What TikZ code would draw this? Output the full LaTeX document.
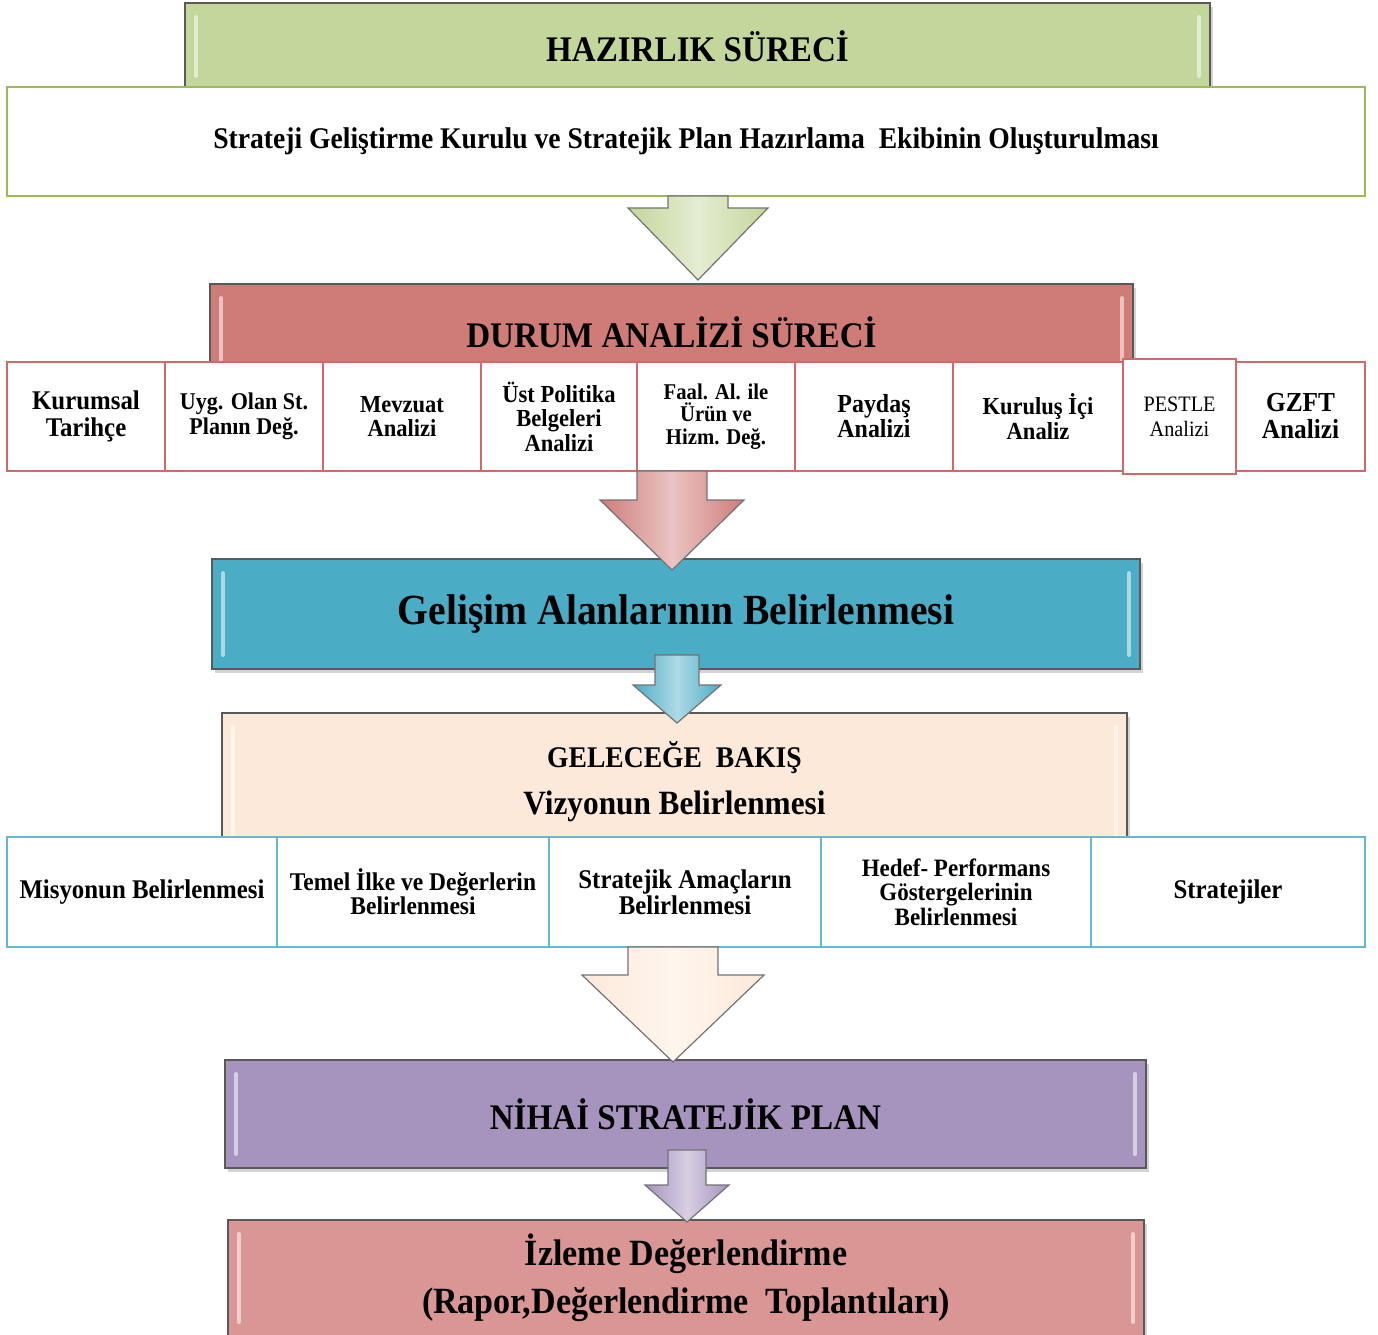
\documentclass[tikz,border=0pt]{standalone}
\usepackage{fontspec}
\setmainfont{Liberation Serif}[FakeStretch=0.92]
\usepackage{xcolor}
\usetikzlibrary{calc,shadows}

\definecolor{hzgreen}{HTML}{C3D69B}
\definecolor{hzgreenline}{HTML}{9BBB59}
\definecolor{darred}{HTML}{CF7C79}
\definecolor{darredline}{HTML}{D06A6A}
\definecolor{gaBlue}{HTML}{4BACC6}
\definecolor{gbPeach}{HTML}{FDE9D9}
\definecolor{nspPurple}{HTML}{A694BF}
\definecolor{izRose}{HTML}{D99694}

% block arrow: start, tip, half shaft, half head, head length, fill
\newcommand{\flowarrow}[6]{%
  \draw[blockarrow, left color=#6, right color=#6, middle color=white!55!#6]
    ($(#1)+(-#3,0)$) -- ($(#2)+(-#3,#5)$) -- ($(#2)+(-#4,#5)$) -- (#2)
    -- ($(#2)+(#4,#5)$) -- ($(#2)+(#3,#5)$) -- ($(#1)+(#3,0)$) -- cycle;}

\begin{document}
\begin{tikzpicture}[
  x=1pt, y=1pt,
  stage/.style={draw=black!65, line width=1.6pt, drop shadow={opacity=0.35, shadow xshift=3pt, shadow yshift=-4pt},
    font=\fontsize{36}{40}\selectfont\bfseries, align=center, inner sep=0pt,
    path picture={
      \draw[white, opacity=0.55, line width=4pt, line cap=round]
        ([xshift=11pt, yshift=-14pt]path picture bounding box.north west) -- ([xshift=11pt, yshift=14pt]path picture bounding box.south west)
        ([xshift=-11pt, yshift=-14pt]path picture bounding box.north east) -- ([xshift=-11pt, yshift=14pt]path picture bounding box.south east);}},
  redcell/.style={draw=darredline, line width=1.6pt, fill=white, minimum height=109, align=center, inner sep=0pt,
    font=\fontsize{24.5}{24.5}\selectfont\bfseries},
  bluecell/.style={draw=gaBlue!85, line width=1.6pt, fill=white, minimum height=110, align=center, inner sep=0pt,
    font=\fontsize{27}{26}\selectfont\bfseries},
  blockarrow/.style={draw=black!55, line width=1.2pt, line join=miter}
]
  \useasboundingbox (0,0) rectangle (1378,-1335);

  % Hazirlik
  \node[stage, fill=hzgreen, minimum width=1025, minimum height=87] (hazir) at (697.5,-46.5) {HAZIRLIK SÜRECİ};
  \node[draw=hzgreenline, line width=1.6pt, fill=white, minimum width=1358, minimum height=109,
    font=\fontsize{30}{30}\selectfont\bfseries] (kurul) at (686,-141.5)
    {Strateji Geliştirme Kurulu ve Stratejik Plan Hazırlama\ \ Ekibinin Oluşturulması};

  % Durum analizi
  \node[stage, fill=darred, minimum width=923, minimum height=96] (durum) at (671.5,-332) {DURUM ANALİZİ SÜRECİ};
  \coordinate (a1s) at (698,-196);
  \coordinate (a1t) at (698,-280);
  \flowarrow{a1s}{a1t}{30}{70}{72}{hzgreen}

  \node[redcell, minimum width=158, font=\fontsize{27}{27}\selectfont\bfseries] (tarihce) at (86,-416.5) {Kurumsal\\Tarihçe};
  \node[redcell, minimum width=158, font=\fontsize{24}{25}\selectfont\bfseries] (uyg) at (244,-416.5) {Uyg. Olan St.\\Planın Değ.};
  \node[redcell, minimum width=158] (mevzuat) at (402,-416.5) {Mevzuat\\Analizi};
  \node[redcell, minimum width=156] (ustpol) at (559,-416.5) {Üst Politika\\Belgeleri\\Analizi};
  \node[redcell, minimum width=158, font=\fontsize{22.5}{22.5}\selectfont\bfseries] (faal) at (716,-416.5) {Faal. Al. ile\\Ürün ve\\Hizm. Değ.};
  \node[redcell, minimum width=158, font=\fontsize{26}{25}\selectfont\bfseries] (paydas) at (874,-416.5) {Paydaş\\Analizi};
  \node[redcell, minimum width=170] (kurici) at (1038,-416.5) {Kuruluş İçi\\Analiz};
  \node[redcell, minimum width=113, minimum height=115, font=\fontsize{22}{25}\selectfont] (pestle) at (1179.5,-416.5) {PESTLE\\Analizi};
  \node[redcell, minimum width=129, font=\fontsize{27.5}{27}\selectfont\bfseries] (gzft) at (1300.5,-416.5) {GZFT\\Analizi};

  % Gelisim alanlari
  \node[stage, fill=gaBlue, minimum width=928, minimum height=110, font=\fontsize{43}{45}\selectfont\bfseries]
    (gelisim) at (676,-614) {Gelişim Alanlarının Belirlenmesi};
  \coordinate (a2s) at (672,-471);
  \coordinate (a2t) at (672,-570);
  \flowarrow{a2s}{a2t}{35}{72}{70}{darred}

  % Gelecege bakis
  \node[stage, fill=gbPeach, minimum width=905, minimum height=137, font=\fontsize{34}{47}\selectfont\bfseries]
    (bakis) at (674.5,-781.5) {{\fontsize{30}{47}\selectfont GELECEĞE\ \ BAKIŞ}\\Vizyonun Belirlenmesi};
  \coordinate (a3s) at (677,-655);
  \coordinate (a3t) at (677,-723);
  \flowarrow{a3s}{a3t}{22}{44}{38}{gaBlue}

  \node[bluecell, minimum width=270] (misyon) at (142,-892) {Misyonun Belirlenmesi};
  \node[bluecell, minimum width=272, font=\fontsize{25.5}{23}\selectfont\bfseries] (temel) at (413,-892) {Temel İlke ve Değerlerin\\Belirlenmesi};
  \node[bluecell, minimum width=272] (amac) at (685,-892) {Stratejik Amaçların\\Belirlenmesi};
  \node[bluecell, minimum width=270, font=\fontsize{25}{24.5}\selectfont\bfseries] (hedef) at (956,-892) {Hedef- Performans\\Göstergelerinin\\Belirlenmesi};
  \node[bluecell, minimum width=274] (strat) at (1228,-892) {Stratejiler};

  % Nihai plan
  \node[stage, fill=nspPurple, minimum width=921, minimum height=108] (nihai) at (685.5,-1114) {NİHAİ STRATEJİK PLAN};
  \coordinate (a4s) at (673,-947);
  \coordinate (a4t) at (673,-1062);
  \flowarrow{a4s}{a4t}{45}{91}{87}{gbPeach}

  % Izleme
  \node[stage, fill=izRose, minimum width=916, minimum height=116, font=\fontsize{37}{48}\selectfont\bfseries]
    (izleme) at (686,-1278) {İzleme Değerlendirme\\(Rapor,Değerlendirme\ \ Toplantıları)};
  \coordinate (a5s) at (687,-1150);
  \coordinate (a5t) at (687,-1222);
  \flowarrow{a5s}{a5t}{19}{42}{37}{nspPurple}
\end{tikzpicture}
\end{document}
